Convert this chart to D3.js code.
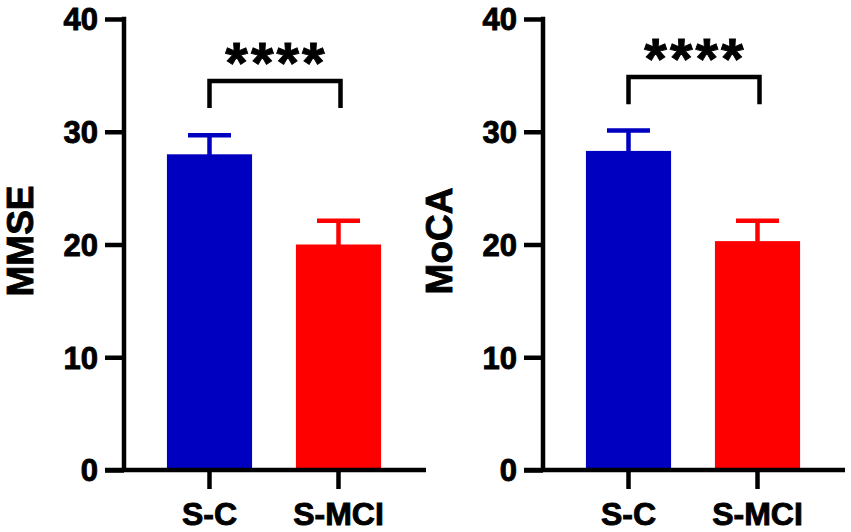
<!DOCTYPE html>
<html>
<head>
<meta charset="utf-8">
<script src="https://cdn.jsdelivr.net/npm/d3@7"></script>
<style>
  html, body { margin: 0; padding: 0; background: #fff; }
  svg { display: block; }
  text { font-family: Arial, "Liberation Sans", sans-serif; font-weight: bold; fill: #000; stroke: #000; stroke-width: 0.9px; }
</style>
</head>
<body>
<svg id="chart" width="851" height="532"></svg>
<script>
// ---- data ----
const categories = ["S-C", "S-MCI"];
const yTicks = [0, 10, 20, 30, 40];
const mmseMeans = [28.0, 20.0];
const mmseErrors = [1.7, 2.1];
const mocaMeans = [28.3, 20.3];
const mocaErrors = [1.8, 1.8];
const significance = ["****", "****"];
const panelTitles = ["MMSE", "MoCA"];
const bracketLevels = [34.5, 34.85];
const barColors = ["#0000C0", "#FF0000"];

// ---- layout ----
const svg = d3.select("#chart");
const panels = [
  { offset: 0, label: panelTitles[0], means: mmseMeans, errors: mmseErrors, stars: significance[0], bracket: bracketLevels[0] },
  { offset: 419, label: panelTitles[1], means: mocaMeans, errors: mocaErrors, stars: significance[1], bracket: bracketLevels[1] }
];

const axisX = 124, yBottom = 470, yTop = 19;
const lineW = 4.5;

panels.forEach((p, pi) => {
  const g = svg.append("g").attr("transform", `translate(${p.offset},0)`);
  const y = d3.scaleLinear().domain([0, 40]).range([yBottom, yTop]);
  const x = d3.scaleBand().domain(categories).range([145, 403]).paddingInner(0.34).paddingOuter(0.17);

  // bars
  g.selectAll("rect.bar").data(categories).enter().append("rect")
    .attr("class", "bar")
    .attr("x", d => x(d))
    .attr("width", x.bandwidth())
    .attr("y", (d, i) => y(p.means[i]))
    .attr("height", (d, i) => y(0) - y(p.means[i]))
    .attr("fill", (d, i) => barColors[i]);

  // error bars (upper only)
  const capHalf = 21.5;
  categories.forEach((c, i) => {
    const cx = x(c) + x.bandwidth() / 2;
    g.append("line")
      .attr("x1", cx).attr("x2", cx)
      .attr("y1", y(p.means[i]) + 1).attr("y2", y(p.means[i] + p.errors[i]))
      .attr("stroke", barColors[i]).attr("stroke-width", lineW);
    g.append("line")
      .attr("x1", cx - capHalf).attr("x2", cx + capHalf)
      .attr("y1", y(p.means[i] + p.errors[i])).attr("y2", y(p.means[i] + p.errors[i]))
      .attr("stroke", barColors[i]).attr("stroke-width", lineW);
  });

  // y axis
  const yAxis = d3.axisLeft(y).tickValues(yTicks).tickSize(19).tickPadding(7).tickFormat(d3.format("d"));
  const ya = g.append("g").attr("transform", `translate(${axisX},0)`).call(yAxis);
  ya.select(".domain").remove();
  ya.selectAll(".tick line").attr("stroke", "#000").attr("stroke-width", lineW);
  ya.selectAll(".tick text").style("font-size", "31px").attr("dy", "0.35em");
  ya.append("line").attr("x1", 0).attr("x2", 0).attr("y1", yTop - lineW / 2).attr("y2", yBottom)
    .attr("stroke", "#000").attr("stroke-width", lineW);

  // x axis
  const xAxis = d3.axisBottom(x).tickSize(19).tickPadding(13);
  const xa = g.append("g").attr("transform", `translate(0,${yBottom})`).call(xAxis);
  xa.select(".domain").remove();
  xa.selectAll(".tick line").attr("stroke", "#000").attr("stroke-width", lineW);
  xa.selectAll(".tick text").style("font-size", "32px").attr("dy", "0.71em");
  xa.append("line").attr("x1", axisX - 19).attr("x2", 426).attr("y1", 0).attr("y2", 0)
    .attr("stroke", "#000").attr("stroke-width", lineW);

  // y label
  g.append("text")
    .attr("transform", `translate(33,241) rotate(-90)`)
    .attr("text-anchor", "middle")
    .style("font-size", "37px")
    .text(p.label);

  // significance bracket
  const x1 = x(categories[0]) + x.bandwidth() / 2;
  const x2 = x(categories[1]) + x.bandwidth() / 2 + 2;
  const yb = y(p.bracket), ye = y(p.bracket - 2.4);
  g.append("path")
    .attr("d", `M${x1},${ye} L${x1},${yb} L${x2},${yb} L${x2},${ye}`)
    .attr("fill", "none").attr("stroke", "#000").attr("stroke-width", lineW)
    .attr("stroke-linejoin", "miter");
  g.append("text")
    .attr("x", (x1 + x2) / 2 + 1.5)
    .attr("y", yb + 2)
    .attr("text-anchor", "middle")
    .style("font-size", "58px")
    .style("letter-spacing", "3px")
    .text(p.stars);
});
</script>
</body>
</html>
